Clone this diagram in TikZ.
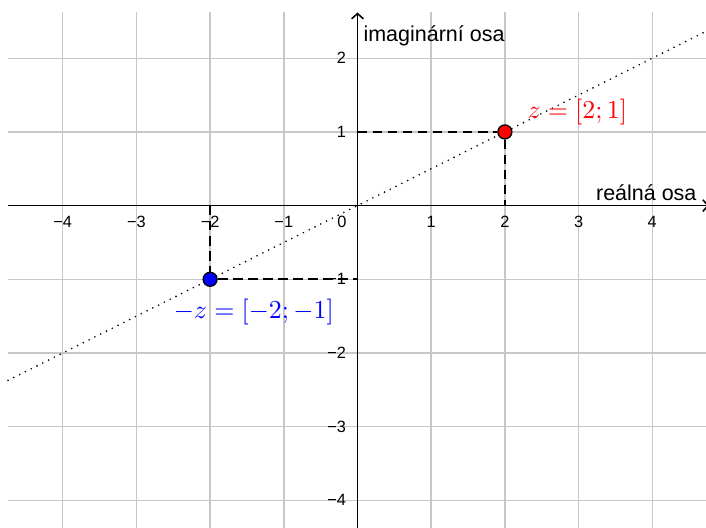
\documentclass[tikz,border=0pt]{standalone}
\usepackage{fontspec}
\setmainfont{Liberation Sans}
\usepackage{tikz}
\usetikzlibrary{arrows.meta, positioning}

\begin{document}
\begin{tikzpicture}[
  >={Straight Barb[length=2pt, width=4.5pt]},
  gridline/.style = {draw=black!22, line width=0.55pt},
  axis/.style     = {line width=0.6pt},
  proj/.style     = {dash pattern=on 3.8pt off 2pt, line width=0.75pt},
  sline/.style    = {line width=0.7pt, line cap=round, dash pattern=on 0pt off 2.5pt},
  ticklbl/.style  = {font=\fontsize{6.3}{7}\selectfont, inner sep=0pt},
  axislbl/.style  = {font=\fontsize{8.3}{10}\selectfont, inner sep=0pt},
  ptlbl/.style    = {font=\fontsize{10}{12}\selectfont, inner sep=0pt},
  pt/.style       = {draw=black, line width=0.5pt, circle, inner sep=0pt, minimum size=0.19cm},
]
  \useasboundingbox (-4.851,-4.361) rectangle (4.729,2.790);
  \clip (-4.851,-4.361) rectangle (4.729,2.790);

  % grid
  \foreach \x in {-4,...,4}
    \draw[gridline] (\x,-4.4) -- (\x,2.627);
  \foreach \y in {-4,...,2}
    \draw[gridline] (-4.742,\y) -- (4.8,\y);

  % axes
  \coordinate (xstart) at (-4.742,0);
  \coordinate (xend)   at (4.77,0);
  \coordinate (ystart) at (0,-4.4);
  \coordinate (yend)   at (0,2.62);
  \draw[axis,->] (xstart) -- (xend);
  \draw[axis,->] (ystart) -- (yend);

  \foreach \x in {1,...,4} {
    \node[ticklbl, anchor=base] (xl\x)  at (\x,-0.30)  {\x};
    \node[ticklbl, anchor=base] (xln\x) at (-\x,-0.30) {−\x};
  }
  \node[ticklbl, anchor=base] (o) at (-0.21,-0.30) {0};
  \foreach \y in {1,2}
    \node[ticklbl, anchor=base east] (yl\y) at (-0.15,\y-0.075) {\y};
  \foreach \y in {1,...,4}
    \node[ticklbl, anchor=base east] (yln\y) at (-0.15,-\y-0.075) {−\y};

  \node[axislbl, anchor=base west] (imlbl) at (0.075,2.233) {imaginární osa};
  \node[axislbl, anchor=base east] (relbl) at (4.607,0.076) {reálná osa};

  % line through z and -z
  \coordinate (dl) at (-4.742,-2.371);
  \coordinate (dr) at (4.8,2.4);
  \draw[sline] (dl) -- (dr);

  % points
  \node[pt, fill=red]  (z) at (2,1)   {};
  \node[pt, fill=blue] (w) at (-2,-1) {};

  \coordinate (zx) at (2,0);
  \coordinate (zy) at (0,1);
  \coordinate (wx) at (-2,0);
  \coordinate (wy) at (0,-1);
  \draw[proj] (zy) -- (z) -- (zx);
  \draw[proj] (wx) -- (w) -- (wy);

  \node[ptlbl, text=red,  anchor=west] (zl) at (2.30,1.27)   {$z=[2;1]$};
  \node[ptlbl, text=blue, anchor=west] (wl) at (-2.50,-1.45) {$-z=[-2;-1]$};
\end{tikzpicture}
\end{document}
